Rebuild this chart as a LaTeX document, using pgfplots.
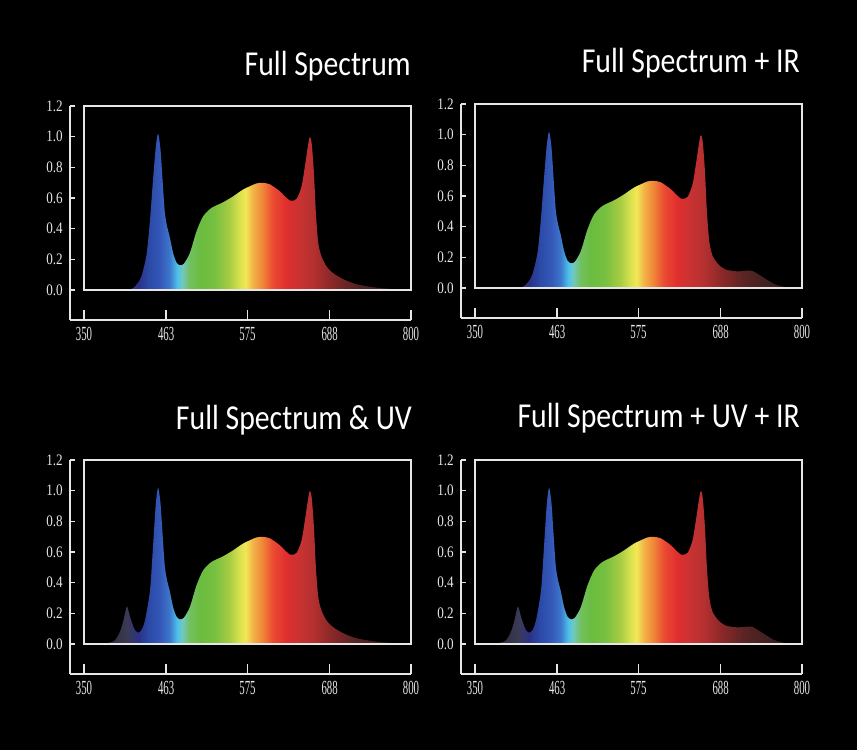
\documentclass[border=0pt]{standalone}
\usepackage{pgfplots}
\pgfplotsset{compat=1.18}
\usepackage{pgfplotstable}
\usepackage{fontspec}
\setmainfont{Carlito}
\newfontfamily\tickfont{Liberation Serif}

\definecolor{axcol}{HTML}{E6E6E6}
\definecolor{c350}{HTML}{202028}
\definecolor{c390}{HTML}{303040}
\definecolor{c410}{HTML}{3A3A55}
\definecolor{c425}{HTML}{2A3288}
\definecolor{c440}{HTML}{2C4AA8}
\definecolor{c455}{HTML}{3558B8}
\definecolor{c468}{HTML}{3C78CC}
\definecolor{c478}{HTML}{4CC0EC}
\definecolor{c485}{HTML}{70C8C0}
\definecolor{c495}{HTML}{72C060}
\definecolor{c510}{HTML}{6ABC40}
\definecolor{c530}{HTML}{78C040}
\definecolor{c550}{HTML}{A8CC42}
\definecolor{c563}{HTML}{D6E04E}
\definecolor{c572}{HTML}{F2E856}
\definecolor{c583}{HTML}{F2B048}
\definecolor{c595}{HTML}{F08838}
\definecolor{c610}{HTML}{EA4A32}
\definecolor{c628}{HTML}{E02E2E}
\definecolor{c645}{HTML}{C93232}
\definecolor{c665}{HTML}{B53030}
\definecolor{c690}{HTML}{8A2828}
\definecolor{c720}{HTML}{5A2424}
\definecolor{c760}{HTML}{3A2020}
\definecolor{c800}{HTML}{281C1C}

\pgfdeclarehorizontalshading{spectrum}{100bp}{%
color(0bp)=(c350); color(25bp)=(c350); color(29.44bp)=(c390);
color(31.67bp)=(c410); color(33.33bp)=(c425); color(35bp)=(c440);
color(36.67bp)=(c455); color(38.11bp)=(c468); color(39.22bp)=(c478);
color(40bp)=(c485); color(41.11bp)=(c495); color(42.78bp)=(c510);
color(45bp)=(c530); color(47.22bp)=(c550); color(48.67bp)=(c563);
color(49.67bp)=(c572); color(50.89bp)=(c583); color(52.22bp)=(c595);
color(53.89bp)=(c610); color(55.89bp)=(c628); color(57.78bp)=(c645);
color(60bp)=(c665); color(62.78bp)=(c690); color(66.11bp)=(c720);
color(70.56bp)=(c760); color(75bp)=(c800); color(100bp)=(c800)}

\pgfplotstableread{
nm v
350 0.0
380 0.002
413 0.004
422 0.033
429 0.09
436 0.23
440.5 0.44
445 0.72
448.7 0.93
451.9 1.02
455.2 0.92
457.9 0.73
461.1 0.51
464.3 0.415
468 0.345
472.6 0.24
477.2 0.179
481.8 0.161
487.3 0.17
495.6 0.24
504.8 0.382
513.9 0.48
525.4 0.535
541.5 0.572
555.3 0.611
569 0.655
587.4 0.695
596.6 0.698
605.8 0.689
619.5 0.644
633.3 0.583
642.5 0.594
649.4 0.676
654 0.807
660 0.989
663.2 0.96
666.4 0.764
669.1 0.502
672.4 0.305
676.9 0.218
683.8 0.153
693 0.109
706.8 0.07
725.2 0.037
752.7 0.015
780.3 0.004
800 0.0
}\fullspec

\pgfplotstableread{
nm v
350 0.0
380 0.002
413 0.004
422 0.033
429 0.09
436 0.23
440.5 0.44
445 0.72
448.7 0.93
451.9 1.02
455.2 0.92
457.9 0.73
461.1 0.51
464.3 0.415
468 0.345
472.6 0.24
477.2 0.179
481.8 0.161
487.3 0.17
495.6 0.24
504.8 0.382
513.9 0.48
525.4 0.535
541.5 0.572
555.3 0.611
569 0.655
587.4 0.695
596.6 0.698
605.8 0.689
619.5 0.644
633.3 0.583
642.5 0.594
649.4 0.676
654 0.807
660 0.989
663.2 0.96
666.4 0.764
669.1 0.502
672.4 0.305
676.9 0.21
683.8 0.16
688 0.14
695 0.12
702 0.113
712 0.108
725 0.113
731 0.112
737 0.098
745 0.074
753 0.05
762 0.025
771 0.012
780 0.004
790 0.001
800 0.0
}\fullir

\pgfplotstableread{
nm v
350 0.0
375 0.002
386 0.01
393 0.026
399.5 0.08
404 0.15
408.7 0.243
411 0.22
413.3 0.178
417.9 0.113
421 0.085
424.7 0.074
429 0.09
434 0.156
440.8 0.35
445 0.64
448.7 0.91
451.9 1.02
455.2 0.92
457.9 0.73
461.1 0.51
464.3 0.415
468 0.345
472.6 0.24
477.2 0.179
481.8 0.161
487.3 0.17
495.6 0.24
504.8 0.382
513.9 0.48
525.4 0.535
541.5 0.572
555.3 0.611
569 0.655
587.4 0.695
596.6 0.698
605.8 0.689
619.5 0.644
633.3 0.583
642.5 0.594
649.4 0.676
654 0.807
660 0.989
663.2 0.96
666.4 0.764
669.1 0.502
672.4 0.305
676.9 0.218
683.8 0.153
693 0.109
706.8 0.07
725.2 0.037
752.7 0.015
780.3 0.004
800 0.0
}\fulluv

\pgfplotstableread{
nm v
350 0.0
375 0.002
386 0.01
393 0.026
399.5 0.08
404 0.15
408.7 0.243
411 0.22
413.3 0.178
417.9 0.113
421 0.085
424.7 0.074
429 0.09
434 0.156
440.8 0.35
445 0.64
448.7 0.91
451.9 1.02
455.2 0.92
457.9 0.73
461.1 0.51
464.3 0.415
468 0.345
472.6 0.24
477.2 0.179
481.8 0.161
487.3 0.17
495.6 0.24
504.8 0.382
513.9 0.48
525.4 0.535
541.5 0.572
555.3 0.611
569 0.655
587.4 0.695
596.6 0.698
605.8 0.689
619.5 0.644
633.3 0.583
642.5 0.594
649.4 0.676
654 0.807
660 0.989
663.2 0.96
666.4 0.764
669.1 0.502
672.4 0.305
676.9 0.21
683.8 0.16
688 0.14
695 0.12
702 0.113
712 0.108
725 0.113
731 0.112
737 0.098
745 0.074
753 0.05
762 0.025
771 0.012
780 0.004
790 0.001
800 0.0
}\fulluvir

\newcommand\xl[1]{\scalebox{0.54}[1]{\tickfont\fontsize{20}{22}\selectfont #1}}
\newcommand\yl[1]{\scalebox{0.82}[1]{\tickfont\fontsize{16}{18}\selectfont #1}}
\newcommand\ttl[1]{\scalebox{0.85}[1]{\fontsize{35}{40}\selectfont #1}}

\pgfplotsset{panel/.style={
  scale only axis, width=341pt, height=214pt,
  xmin=330.7, xmax=800, ymin=-0.196, ymax=1.2,
  axis lines=left,
  axis line style={axcol, line width=1.5pt, -},
  xtick={350,463,575,688,800},
  ytick={0,0.2,0.4,0.6,0.8,1.0,1.2},
  xticklabels={\xl{350},\xl{463},\xl{575},\xl{688},\xl{800}},
  yticklabels={\yl{0.0},\yl{0.2},\yl{0.4},\yl{0.6},\yl{0.8},\yl{1.0},\yl{1.2}},
  tick align=inside,
  major tick length=6pt,
  xtick style={axcol, line width=1.5pt, /pgfplots/major tick length=10pt},
  ytick style={axcol, line width=1.5pt, /pgfplots/major tick length=5pt},
  xticklabel style={text=axcol, inner sep=0pt, anchor=north, yshift=-7pt},
  yticklabel style={text=axcol, inner sep=0pt, anchor=east, xshift=-7pt},
  clip=false,
}}

\begin{document}
\begin{tikzpicture}
\fill[black] (0,0) rectangle (857pt,750pt);

\begin{axis}[panel, at={(70pt,430pt)}, anchor=south west]
\addplot[draw=none, shade, shading=spectrum, smooth, tension=0.45] table[x=nm, y=v] {\fullspec} \closedcycle;
\draw[axcol, line width=1.5pt] (axis cs:350,0) rectangle (axis cs:800,1.2);
\end{axis}

\begin{axis}[panel, at={(461pt,432pt)}, anchor=south west]
\addplot[draw=none, shade, shading=spectrum, smooth, tension=0.45] table[x=nm, y=v] {\fullir} \closedcycle;
\draw[axcol, line width=1.5pt] (axis cs:350,0) rectangle (axis cs:800,1.2);
\end{axis}

\begin{axis}[panel, at={(70pt,76pt)}, anchor=south west]
\addplot[draw=none, shade, shading=spectrum, smooth, tension=0.45] table[x=nm, y=v] {\fulluv} \closedcycle;
\draw[axcol, line width=1.5pt] (axis cs:350,0) rectangle (axis cs:800,1.2);
\end{axis}

\begin{axis}[panel, at={(461pt,76pt)}, anchor=south west]
\addplot[draw=none, shade, shading=spectrum, smooth, tension=0.45] table[x=nm, y=v] {\fulluvir} \closedcycle;
\draw[axcol, line width=1.5pt] (axis cs:350,0) rectangle (axis cs:800,1.2);
\end{axis}

\node[anchor=base east, text=white, inner sep=0pt] at (411pt,674pt) {\ttl{Full Spectrum}};
\node[anchor=base east, text=white, inner sep=0pt] at (800pt,677pt) {\ttl{Full Spectrum + IR}};
\node[anchor=base east, text=white, inner sep=0pt] at (412pt,320pt) {\ttl{Full Spectrum \& UV}};
\node[anchor=base east, text=white, inner sep=0pt] at (800pt,322pt) {\ttl{Full Spectrum + UV + IR}};
\end{tikzpicture}
\end{document}
